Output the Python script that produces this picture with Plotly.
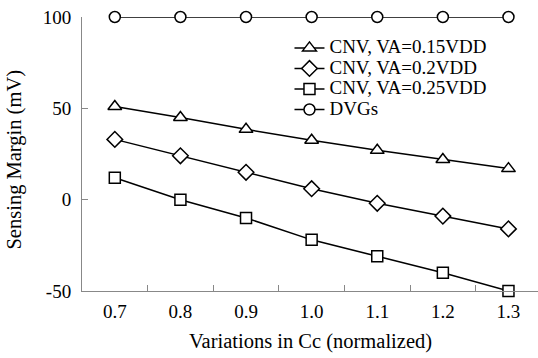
import plotly.graph_objects as go

categories = ["0.7", "0.8", "0.9", "1.0", "1.1", "1.2", "1.3"]
cnv_015 = [51, 45, 38.5, 32.5, 27, 22, 17]
cnv_020 = [33, 24, 15, 6, -2, -9, -16]
cnv_025 = [12, 0, -10, -22, -31, -40, -50]
dvgs = [100, 100, 100, 100, 100, 100, 100]
y_ticks = [-50, 0, 50, 100]
y_ticktext = ["-50", "0", "50", "100"]

series = [
    ("CNV, VA=0.15VDD", cnv_015, "triangle-up", 12),
    ("CNV, VA=0.2VDD", cnv_020, "diamond", 12),
    ("CNV, VA=0.25VDD", cnv_025, "square", 11),
    ("DVGs", dvgs, "circle", 11),
]

fig = go.Figure()
for name, vals, sym, sz in series:
    fig.add_trace(go.Scatter(
        x=categories, y=vals, mode="lines+markers",
        name='<span style="font-size:19px">' + name + "</span>",
        line=dict(color="black", width=1.5),
        marker=dict(symbol=sym, size=sz, color="white",
                    line=dict(color="black", width=1.5)),
        cliponaxis=False,
    ))

font = "Liberation Serif"
fig.update_layout(
    width=538, height=358,
    margin=dict(l=82, r=0, t=17, b=67),
    plot_bgcolor="white", paper_bgcolor="white",
    font=dict(family=font, size=19, color="black"),
    showlegend=True,
    legend=dict(x=0.455, y=0.943, xanchor="left", yanchor="top",
                bgcolor="rgba(0,0,0,0)", font=dict(size=13.5),
                tracegroupgap=0, itemwidth=30),
    xaxis=dict(
        type="category", range=[-0.5, 6.45], automargin=False,
        showline=True, linecolor="#888888", linewidth=1,
        ticks="inside", tickson="boundaries", ticklen=6, tickcolor="#888888",
        showgrid=False, zeroline=False,
        tickfont=dict(size=19), ticklabelstandoff=3,
    ),
    yaxis=dict(
        range=[-50, 100], tickvals=y_ticks, ticktext=y_ticktext, automargin=False,
        showline=True, linecolor="#888888", linewidth=1,
        ticks="inside", ticklen=6, tickcolor="#888888",
        showgrid=False, zeroline=False,
        tickfont=dict(size=19), ticklabelstandoff=6,
    ),
    annotations=[
        dict(text="Variations in Cc (normalized)", xref="paper", yref="paper",
             x=0.5, y=-0.183, xanchor="center", yanchor="middle",
             showarrow=False, font=dict(size=20.5)),
        dict(text="Sensing Margin (mV)", xref="paper", yref="paper",
             x=-0.148, y=0.478, xanchor="center", yanchor="middle", textangle=-90,
             showarrow=False, font=dict(size=20.5)),
    ],
)

fig.write_html("out.html", config={"displayModeBar": False},
               post_script="document.body.style.margin='0';")
